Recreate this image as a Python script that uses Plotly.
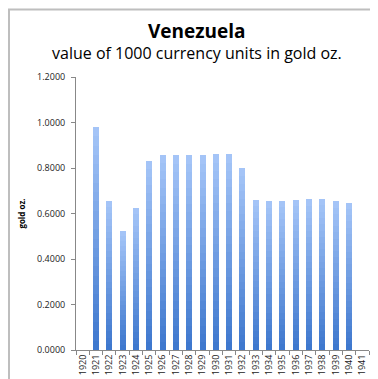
import plotly.graph_objects as go

years = [str(y) for y in range(1920, 1942)]
values = [None, 0.980, 0.656, 0.522, 0.624, 0.829, 0.857, 0.855, 0.855, 0.855,
          0.860, 0.860, 0.798, 0.661, 0.653, 0.656, 0.659, 0.662, 0.663, 0.653,
          0.646, None]
y_ticks = [0.0, 0.2, 0.4, 0.6, 0.8, 1.0, 1.2]

W, H = 378, 379
ml, mr, mt, mb = 68, 17, 69, 35
pw, ph = W - ml - mr, H - mt - mb

# gradient colours, bottom (dark) to top (light)
c_bottom = (0x3C, 0x76, 0xCD)
c_top = (0xA6, 0xC6, 0xF8)
N = 24

fig = go.Figure()
for i in range(N):
    t = (i + 0.5) / N
    col = tuple(round(c_bottom[k] + (c_top[k] - c_bottom[k]) * t) for k in range(3))
    seg = [None if v is None else v / N for v in values]
    fig.add_trace(go.Bar(
        x=years, y=seg,
        marker=dict(color="rgb(%d,%d,%d)" % col, line=dict(width=0)),
        showlegend=False, hoverinfo="skip",
    ))

fig.update_layout(
    width=W, height=H,
    margin=dict(l=ml, r=mr, t=mt, b=mb),
    barmode="stack", bargap=0.55,
    paper_bgcolor="white", plot_bgcolor="white",
    font=dict(family="Open Sans, Liberation Sans, sans-serif", color="#000"),
    xaxis=dict(
        type="category", categoryorder="array", categoryarray=years,
        tickangle=-90, tickfont=dict(size=9, color="#222"),
        ticks="outside", ticklen=4, tickcolor="#888", tickson="boundaries",
        showline=True, linecolor="#888", linewidth=1,
        showgrid=False, zeroline=False,
    ),
    yaxis=dict(
        range=[0, 1.2], tickvals=y_ticks, tickformat=".4f",
        tickfont=dict(size=9, color="#222"), ticklabelstandoff=4,
        ticks="outside", ticklen=4, tickcolor="#888",
        showline=True, linecolor="#888", linewidth=1,
        showgrid=False, zeroline=False,
        title=dict(text="<b>gold oz.</b>", font=dict(size=8), standoff=10),
    ),
    annotations=[
        dict(text="<b>Venezuela</b>", xref="paper", yref="paper",
             x=(W / 2 - ml) / pw, y=1 + (mt - 23) / ph,
             xanchor="center", yanchor="middle",
             showarrow=False, font=dict(size=19)),
        dict(text="value of 1000 currency units in gold oz.", xref="paper", yref="paper",
             x=(W / 2 - ml) / pw, y=1 + (mt - 45) / ph,
             xanchor="center", yanchor="middle",
             showarrow=False, font=dict(size=16)),
    ],
    shapes=[dict(type="rect", xref="paper", yref="paper",
                 x0=-(ml - 1) / pw, x1=1 + (mr - 1) / pw,
                 y0=-(mb - 1) / ph, y1=1 + (mt - 1) / ph,
                 line=dict(color="#BEBEBE", width=2), layer="above")],
)

fig.write_html("out.html")
